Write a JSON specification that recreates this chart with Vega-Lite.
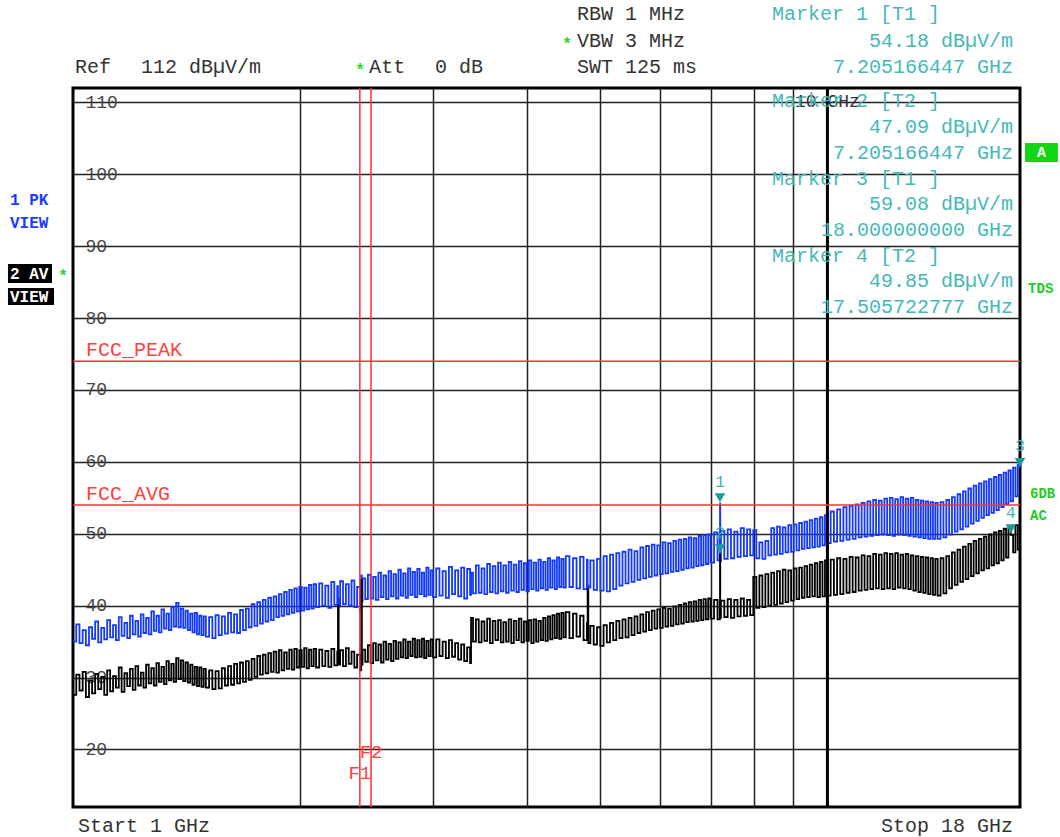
{
  "$schema": "https://vega.github.io/schema/vega-lite/v6.json",
  "width": 947,
  "height": 719,
  "autosize": {"type": "none"},
  "padding": {"left": 73, "top": 88, "right": 40, "bottom": 30},
  "background": "white",
  "config": {"view": {"stroke": "#000", "strokeWidth": 3}},
  "datasets": {
    "trace": [
      {"f":1.00,"pk":35.0,"av":27.6},{"f":1.01,"pk":37.4,"av":30.4},{"f":1.02,"pk":34.8,"av":28.2},{"f":1.03,"pk":36.6,"av":30.8},
      {"f":1.04,"pk":34.5,"av":27.3},{"f":1.05,"pk":37.0,"av":29.6},{"f":1.06,"pk":35.4,"av":27.8},{"f":1.07,"pk":37.8,"av":30.5},
      {"f":1.08,"pk":34.9,"av":28.4},{"f":1.09,"pk":36.9,"av":30.1},{"f":1.10,"pk":35.3,"av":27.6},{"f":1.11,"pk":38.0,"av":31.0},
      {"f":1.12,"pk":35.6,"av":28.1},{"f":1.13,"pk":37.3,"av":30.2},{"f":1.14,"pk":35.2,"av":28.6},{"f":1.15,"pk":38.4,"av":31.4},
      {"f":1.16,"pk":35.8,"av":28.0},{"f":1.17,"pk":37.6,"av":30.6},{"f":1.18,"pk":35.5,"av":28.8},{"f":1.19,"pk":38.6,"av":31.2},
      {"f":1.20,"pk":36.0,"av":28.3},{"f":1.21,"pk":37.9,"av":31.6},{"f":1.22,"pk":35.7,"av":28.9},{"f":1.23,"pk":38.8,"av":30.7},
      {"f":1.24,"pk":36.2,"av":28.6},{"f":1.25,"pk":38.3,"av":31.8},{"f":1.26,"pk":36.0,"av":29.2},{"f":1.27,"pk":39.2,"av":31.3},
      {"f":1.28,"pk":36.5,"av":28.9},{"f":1.29,"pk":38.6,"av":32.0},{"f":1.30,"pk":36.3,"av":29.4},{"f":1.31,"pk":39.5,"av":31.5},
      {"f":1.32,"pk":36.8,"av":29.1},{"f":1.33,"pk":38.9,"av":32.3},{"f":1.34,"pk":36.6,"av":29.6},{"f":1.35,"pk":39.8,"av":31.9},
      {"f":1.36,"pk":37.1,"av":29.4},{"f":1.37,"pk":40.4,"av":32.7},{"f":1.38,"pk":37.0,"av":29.8},{"f":1.39,"pk":39.6,"av":32.4},
      {"f":1.40,"pk":36.9,"av":29.5},{"f":1.41,"pk":39.3,"av":32.1},{"f":1.42,"pk":36.6,"av":29.3},{"f":1.43,"pk":38.9,"av":31.8},
      {"f":1.44,"pk":36.3,"av":29.0},{"f":1.45,"pk":39.0,"av":31.5},{"f":1.46,"pk":36.0,"av":28.8},{"f":1.47,"pk":38.6,"av":31.4},
      {"f":1.48,"pk":35.9,"av":28.7},{"f":1.49,"pk":38.5,"av":31.2},
      {"f":1.500,"pk":35.7,"av":28.6},{"f":1.515,"pk":38.4,"av":31.0},{"f":1.530,"pk":35.5,"av":28.4},{"f":1.545,"pk":38.7,"av":30.9},
      {"f":1.560,"pk":35.9,"av":28.5},{"f":1.575,"pk":38.5,"av":31.3},{"f":1.590,"pk":36.1,"av":28.9},{"f":1.605,"pk":39.0,"av":31.6},
      {"f":1.620,"pk":36.3,"av":29.0},{"f":1.635,"pk":38.8,"av":31.9},{"f":1.650,"pk":36.2,"av":29.2},{"f":1.665,"pk":39.4,"av":32.1},
      {"f":1.680,"pk":36.6,"av":29.4},{"f":1.695,"pk":39.6,"av":32.3},{"f":1.710,"pk":37.0,"av":29.7},{"f":1.725,"pk":40.2,"av":32.6},
      {"f":1.740,"pk":37.2,"av":30.1},{"f":1.755,"pk":40.5,"av":33.0},{"f":1.770,"pk":37.5,"av":30.4},{"f":1.785,"pk":40.8,"av":33.2},
      {"f":1.800,"pk":37.8,"av":30.6},{"f":1.815,"pk":41.1,"av":33.4},{"f":1.830,"pk":38.0,"av":30.8},{"f":1.845,"pk":41.3,"av":33.6},
      {"f":1.860,"pk":38.4,"av":30.7},{"f":1.875,"pk":41.6,"av":33.8},{"f":1.890,"pk":38.6,"av":31.0},{"f":1.905,"pk":41.9,"av":33.5},
      {"f":1.920,"pk":38.8,"av":31.2},{"f":1.935,"pk":42.2,"av":33.9},{"f":1.950,"pk":39.0,"av":31.1},{"f":1.965,"pk":42.4,"av":34.0},
      {"f":1.980,"pk":39.2,"av":31.4},{"f":1.995,"pk":42.6,"av":33.8},{"f":2.010,"pk":39.3,"av":31.5},{"f":2.025,"pk":42.5,"av":34.1},
      {"f":2.040,"pk":39.5,"av":31.3},{"f":2.055,"pk":42.9,"av":33.9},{"f":2.070,"pk":39.6,"av":31.6},{"f":2.085,"pk":43.0,"av":34.0},
      {"f":2.10,"pk":39.8,"av":31.4},{"f":2.12,"pk":43.1,"av":33.9},{"f":2.14,"pk":40.0,"av":31.6},{"f":2.16,"pk":42.8,"av":33.7},
      {"f":2.18,"pk":39.7,"av":31.5},{"f":2.20,"pk":43.3,"av":34.0},{"f":2.22,"pk":40.1,"av":31.7},{"f":2.24,"pk":42.7,"av":33.6},
      {"f":2.245,"pk":41.0,"av":40.0},{"f":2.25,"pk":39.9,"av":31.8},{"f":2.26,"pk":43.4,"av":33.8},{"f":2.28,"pk":40.2,"av":31.6},
      {"f":2.30,"pk":43.0,"av":34.1},{"f":2.32,"pk":40.0,"av":31.9},{"f":2.34,"pk":43.5,"av":33.6},{"f":2.36,"pk":39.8,"av":31.4},
      {"f":2.38,"pk":42.6,"av":33.2},{"f":2.40,"pk":39.3,"av":31.0},{"f":2.41,"pk":44.2,"av":43.6},{"f":2.415,"pk":40.6,"av":31.8},
      {"f":2.42,"pk":43.8,"av":33.9},{"f":2.44,"pk":40.9,"av":32.2},{"f":2.46,"pk":44.3,"av":34.5},{"f":2.48,"pk":41.0,"av":32.0},
      {"f":2.50,"pk":44.0,"av":34.8},{"f":2.52,"pk":40.8,"av":32.4},{"f":2.54,"pk":44.6,"av":34.6},{"f":2.56,"pk":41.2,"av":32.1},
      {"f":2.58,"pk":44.2,"av":35.0},{"f":2.60,"pk":40.9,"av":32.5},{"f":2.62,"pk":44.8,"av":34.7},{"f":2.64,"pk":41.3,"av":32.3},
      {"f":2.66,"pk":44.4,"av":35.1},{"f":2.68,"pk":41.0,"av":32.6},{"f":2.70,"pk":45.0,"av":34.9},{"f":2.72,"pk":41.4,"av":32.8},
      {"f":2.74,"pk":44.5,"av":35.3},{"f":2.76,"pk":41.1,"av":32.7},{"f":2.78,"pk":45.2,"av":35.0},{"f":2.80,"pk":41.5,"av":33.0},
      {"f":2.82,"pk":44.7,"av":35.4},{"f":2.84,"pk":41.2,"av":32.8},{"f":2.86,"pk":45.1,"av":35.2},{"f":2.88,"pk":41.6,"av":32.9},
      {"f":2.90,"pk":44.6,"av":35.4},{"f":2.92,"pk":41.3,"av":32.7},{"f":2.94,"pk":45.3,"av":35.1},{"f":2.96,"pk":41.5,"av":33.0},
      {"f":2.98,"pk":44.9,"av":35.3},
      {"f":3.00,"pk":41.2,"av":32.8},{"f":3.03,"pk":45.2,"av":35.3},{"f":3.06,"pk":41.4,"av":33.0},{"f":3.09,"pk":44.8,"av":35.0},
      {"f":3.12,"pk":41.1,"av":32.7},{"f":3.15,"pk":45.4,"av":35.2},{"f":3.18,"pk":41.6,"av":32.9},{"f":3.21,"pk":44.9,"av":34.8},
      {"f":3.24,"pk":41.3,"av":32.5},{"f":3.27,"pk":45.3,"av":34.6},{"f":3.30,"pk":41.0,"av":32.3},{"f":3.33,"pk":45.1,"av":34.2},
      {"f":3.36,"pk":41.5,"av":32.0},{"f":3.37,"pk":44.6,"av":38.3},{"f":3.39,"pk":41.7,"av":35.0},{"f":3.42,"pk":45.6,"av":38.1},
      {"f":3.45,"pk":41.8,"av":34.9},{"f":3.48,"pk":45.2,"av":37.8},{"f":3.51,"pk":41.6,"av":35.1},{"f":3.54,"pk":45.8,"av":38.2},
      {"f":3.57,"pk":41.9,"av":34.8},{"f":3.60,"pk":45.5,"av":37.9},{"f":3.63,"pk":41.7,"av":35.2},{"f":3.66,"pk":46.0,"av":38.0},
      {"f":3.69,"pk":42.0,"av":34.9},{"f":3.72,"pk":45.6,"av":37.7},{"f":3.75,"pk":41.8,"av":35.0},{"f":3.78,"pk":46.1,"av":38.1},
      {"f":3.81,"pk":42.1,"av":34.8},{"f":3.84,"pk":45.7,"av":37.9},{"f":3.87,"pk":41.9,"av":35.2},{"f":3.90,"pk":46.2,"av":38.2},
      {"f":3.93,"pk":42.2,"av":34.9},{"f":3.96,"pk":45.9,"av":37.8},{"f":3.99,"pk":42.0,"av":35.1},{"f":4.02,"pk":46.3,"av":38.0},
      {"f":4.05,"pk":42.3,"av":34.8},{"f":4.08,"pk":46.0,"av":38.1},{"f":4.11,"pk":42.1,"av":35.0},{"f":4.14,"pk":46.4,"av":37.9},
      {"f":4.17,"pk":42.4,"av":35.2},{"f":4.20,"pk":46.1,"av":38.3},{"f":4.23,"pk":42.2,"av":35.1},{"f":4.26,"pk":46.6,"av":38.5},
      {"f":4.29,"pk":42.5,"av":35.3},{"f":4.32,"pk":46.3,"av":38.7},{"f":4.35,"pk":42.3,"av":35.5},{"f":4.38,"pk":46.7,"av":38.9},
      {"f":4.41,"pk":42.6,"av":35.4},{"f":4.44,"pk":46.5,"av":39.0},{"f":4.47,"pk":42.5,"av":35.6},
      {"f":4.50,"pk":46.9,"av":39.1},{"f":4.55,"pk":42.6,"av":35.5},{"f":4.60,"pk":46.6,"av":38.9},{"f":4.65,"pk":42.4,"av":35.7},
      {"f":4.70,"pk":46.8,"av":38.6},{"f":4.75,"pk":42.3,"av":35.2},{"f":4.80,"pk":46.4,"av":37.6},{"f":4.81,"pk":42.8,"av":42.3},
      {"f":4.82,"pk":42.5,"av":34.8},{"f":4.85,"pk":46.3,"av":37.2},{"f":4.90,"pk":42.2,"av":34.6},{"f":4.95,"pk":46.5,"av":37.0},
      {"f":5.00,"pk":42.1,"av":34.4},{"f":5.05,"pk":46.9,"av":37.3},{"f":5.10,"pk":42.0,"av":34.9},{"f":5.15,"pk":47.1,"av":37.6},
      {"f":5.20,"pk":42.3,"av":35.2},{"f":5.25,"pk":47.3,"av":37.9},{"f":5.30,"pk":42.8,"av":35.5},{"f":5.35,"pk":47.5,"av":38.1},
      {"f":5.40,"pk":43.1,"av":35.6},{"f":5.45,"pk":47.8,"av":38.3},{"f":5.50,"pk":43.3,"av":35.9},{"f":5.55,"pk":47.6,"av":38.5},
      {"f":5.60,"pk":43.6,"av":36.2},{"f":5.65,"pk":48.1,"av":38.8},{"f":5.70,"pk":43.8,"av":36.4},{"f":5.75,"pk":48.3,"av":39.1},
      {"f":5.80,"pk":44.0,"av":36.6},{"f":5.85,"pk":48.5,"av":39.3},{"f":5.90,"pk":44.2,"av":36.8},{"f":5.95,"pk":48.4,"av":39.5},
      {"f":6.00,"pk":44.4,"av":36.9},{"f":6.05,"pk":48.8,"av":39.7},{"f":6.10,"pk":44.5,"av":37.1},{"f":6.15,"pk":48.7,"av":39.6},
      {"f":6.20,"pk":44.7,"av":37.2},{"f":6.25,"pk":49.0,"av":39.9},{"f":6.30,"pk":44.8,"av":37.4},{"f":6.35,"pk":49.2,"av":40.1},
      {"f":6.40,"pk":45.0,"av":37.5},{"f":6.45,"pk":49.3,"av":40.3},{"f":6.50,"pk":45.2,"av":37.7},{"f":6.55,"pk":49.5,"av":40.5},
      {"f":6.60,"pk":45.3,"av":37.8},{"f":6.65,"pk":49.4,"av":40.6},{"f":6.70,"pk":45.5,"av":37.9},{"f":6.75,"pk":49.7,"av":40.8},
      {"f":6.80,"pk":45.6,"av":38.0},{"f":6.85,"pk":49.8,"av":40.9},{"f":6.90,"pk":45.8,"av":38.1},{"f":6.95,"pk":49.9,"av":41.0},
      {"f":7.000,"pk":46.0,"av":38.2},{"f":7.075,"pk":50.2,"av":40.8},{"f":7.150,"pk":46.3,"av":38.1},{"f":7.200,"pk":50.0,"av":40.6},
      {"f":7.205,"pk":54.18,"av":47.09},{"f":7.210,"pk":46.2,"av":38.3},{"f":7.225,"pk":50.4,"av":40.7},{"f":7.300,"pk":46.5,"av":38.4},
      {"f":7.375,"pk":50.6,"av":40.9},{"f":7.450,"pk":46.6,"av":38.3},{"f":7.525,"pk":50.3,"av":40.8},{"f":7.600,"pk":46.8,"av":38.5},
      {"f":7.675,"pk":50.8,"av":41.0},{"f":7.750,"pk":46.9,"av":38.6},{"f":7.825,"pk":50.6,"av":40.8},{"f":7.900,"pk":47.0,"av":38.7},
      {"f":7.975,"pk":50.5,"av":44.0},{"f":8.050,"pk":46.6,"av":39.7},{"f":8.125,"pk":48.8,"av":44.2},{"f":8.200,"pk":46.5,"av":39.8},
      {"f":8.275,"pk":49.0,"av":44.4},{"f":8.350,"pk":47.0,"av":40.0},{"f":8.425,"pk":50.8,"av":44.6},{"f":8.500,"pk":47.1,"av":40.1},
      {"f":8.575,"pk":51.0,"av":44.8},{"f":8.650,"pk":47.2,"av":40.3},{"f":8.725,"pk":50.9,"av":45.0},{"f":8.800,"pk":47.4,"av":40.5},
      {"f":8.875,"pk":51.2,"av":44.9},{"f":8.950,"pk":47.5,"av":40.7},{"f":9.025,"pk":51.3,"av":45.2},{"f":9.100,"pk":47.7,"av":40.9},
      {"f":9.175,"pk":51.5,"av":45.3},{"f":9.250,"pk":47.9,"av":41.1},{"f":9.325,"pk":51.7,"av":45.5},{"f":9.400,"pk":48.0,"av":41.2},
      {"f":9.475,"pk":51.9,"av":45.7},{"f":9.550,"pk":48.1,"av":41.3},{"f":9.625,"pk":52.1,"av":45.9},{"f":9.700,"pk":48.2,"av":41.2},
      {"f":9.775,"pk":52.3,"av":46.1},{"f":9.850,"pk":48.4,"av":41.3},{"f":9.925,"pk":52.6,"av":46.3},
      {"f":10.0,"pk":48.7,"av":41.4},{"f":10.1,"pk":53.1,"av":46.4},{"f":10.2,"pk":48.9,"av":41.5},{"f":10.3,"pk":53.4,"av":46.6},
      {"f":10.4,"pk":49.0,"av":41.6},{"f":10.5,"pk":53.7,"av":46.5},{"f":10.6,"pk":49.2,"av":41.8},{"f":10.7,"pk":53.9,"av":46.8},
      {"f":10.8,"pk":49.3,"av":41.9},{"f":10.9,"pk":54.1,"av":46.7},{"f":11.0,"pk":49.5,"av":42.1},{"f":11.1,"pk":54.3,"av":47.0},
      {"f":11.2,"pk":49.6,"av":42.2},{"f":11.3,"pk":54.5,"av":46.9},{"f":11.4,"pk":49.7,"av":42.3},{"f":11.5,"pk":54.7,"av":47.2},
      {"f":11.6,"pk":49.8,"av":42.4},{"f":11.7,"pk":54.6,"av":47.1},{"f":11.8,"pk":49.9,"av":42.3},{"f":11.9,"pk":54.9,"av":47.3},
      {"f":12.0,"pk":49.8,"av":42.4},{"f":12.1,"pk":55.0,"av":47.2},{"f":12.2,"pk":49.7,"av":42.3},{"f":12.3,"pk":54.8,"av":47.3},
      {"f":12.4,"pk":49.9,"av":42.5},{"f":12.5,"pk":55.1,"av":47.1},{"f":12.6,"pk":49.8,"av":42.4},{"f":12.7,"pk":54.9,"av":47.2},
      {"f":12.8,"pk":49.7,"av":42.3},{"f":12.9,"pk":55.0,"av":47.0},{"f":13.0,"pk":49.6,"av":42.1},{"f":13.1,"pk":54.7,"av":46.9},
      {"f":13.2,"pk":49.5,"av":41.9},{"f":13.3,"pk":54.6,"av":46.8},{"f":13.4,"pk":49.4,"av":41.8},{"f":13.5,"pk":54.5,"av":46.7},
      {"f":13.6,"pk":49.3,"av":41.6},{"f":13.7,"pk":54.4,"av":46.6},{"f":13.8,"pk":49.3,"av":41.5},{"f":13.9,"pk":54.3,"av":46.5},
      {"f":14.000,"pk":49.3,"av":41.4},{"f":14.125,"pk":54.4,"av":46.6},{"f":14.250,"pk":49.5,"av":41.7},{"f":14.375,"pk":54.7,"av":46.9},
      {"f":14.500,"pk":49.9,"av":42.4},{"f":14.625,"pk":55.1,"av":47.4},{"f":14.750,"pk":50.3,"av":42.9},{"f":14.875,"pk":55.5,"av":47.8},
      {"f":15.000,"pk":50.6,"av":43.3},{"f":15.125,"pk":55.9,"av":48.2},{"f":15.250,"pk":51.0,"av":43.7},{"f":15.375,"pk":56.3,"av":48.6},
      {"f":15.500,"pk":51.4,"av":44.1},{"f":15.625,"pk":56.7,"av":49.0},{"f":15.750,"pk":51.8,"av":44.5},{"f":15.875,"pk":57.0,"av":49.3},
      {"f":16.000,"pk":52.2,"av":44.9},{"f":16.125,"pk":57.3,"av":49.6},{"f":16.250,"pk":52.6,"av":45.2},{"f":16.375,"pk":57.6,"av":49.9},
      {"f":16.500,"pk":52.9,"av":45.6},{"f":16.625,"pk":57.9,"av":50.2},{"f":16.750,"pk":53.3,"av":45.9},{"f":16.875,"pk":58.2,"av":50.4},
      {"f":17.000,"pk":53.7,"av":46.3},{"f":17.125,"pk":58.5,"av":50.7},{"f":17.250,"pk":54.1,"av":46.7},{"f":17.375,"pk":58.8,"av":51.0},
      {"f":17.500,"pk":54.5,"av":49.85},{"f":17.625,"pk":59.2,"av":47.4},{"f":17.750,"pk":55.2,"av":51.2},{"f":17.875,"pk":59.6,"av":47.8},
      {"f":18.000,"pk":59.08,"av":51.0}
    ]
  },
  "layer": [
    {
      "data": {"name": "trace"},
      "mark": {"type": "line", "interpolate": "step-after", "strokeWidth": 1.8, "color": "#1238ff", "clip": true},
      "encoding": {
        "x": {"field": "f", "type": "quantitative", "scale": {"type": "log", "domain": [1, 18], "nice": false},
              "axis": {"values": [2,3,4,5,6,7,8,9,10], "grid": true, "gridColor": "#222", "gridWidth": 1.5, "labels": false, "ticks": false, "domain": false, "title": null}},
        "y": {"field": "pk", "type": "quantitative", "scale": {"domain": [12, 112], "nice": false, "zero": false},
              "axis": {"values": [20,30,40,50,60,70,80,90,100,110], "grid": true, "gridColor": "#222", "gridWidth": 1.5, "domain": false, "ticks": false,
                       "labelAlign": "left", "labelPadding": -12, "labelFont": "Liberation Mono", "labelFontSize": 18, "labelColor": "#444", "labelBaseline": "middle", "labelOverlap": false, "title": null}}
      }
    },
    {
      "data": {"name": "trace"},
      "mark": {"type": "line", "interpolate": "step-after", "strokeWidth": 1.8, "color": "#000000", "clip": true},
      "encoding": {
        "x": {"field": "f", "type": "quantitative", "scale": {"type": "log", "domain": [1, 18], "nice": false}},
        "y": {"field": "av", "type": "quantitative", "scale": {"domain": [12, 112], "nice": false, "zero": false}}
      }
    },
    {
      "data": {"values": [{"f": 10}]},
      "mark": {"type": "rule", "color": "#000", "strokeWidth": 3},
      "encoding": {
        "x": {"field": "f", "type": "quantitative", "scale": {"type": "log", "domain": [1, 18], "nice": false}}
      }
    },
    {
      "data": {"values": [{"name": "FCC_PEAK", "db": 74}, {"name": "FCC_AVG", "db": 54}]},
      "layer": [
        {
          "mark": {"type": "rule", "color": "#ff3030", "strokeWidth": 1.5},
          "encoding": {"y": {"field": "db", "type": "quantitative", "scale": {"domain": [12, 112], "nice": false, "zero": false}}}
        },
        {
          "mark": {"type": "text", "align": "left", "baseline": "middle", "font": "Liberation Mono", "fontSize": 20, "color": "#ff4040", "dy": -11},
          "encoding": {
            "x": {"datum": 1.0405, "type": "quantitative", "scale": {"type": "log", "domain": [1, 18], "nice": false}},
            "y": {"field": "db", "type": "quantitative", "scale": {"domain": [12, 112], "nice": false, "zero": false}},
            "text": {"field": "name"}
          }
        }
      ]
    },
    {
      "data": {"values": [{"name": "F1", "f": 2.4, "ly": 16.73}, {"name": "F2", "f": 2.4835, "ly": 19.65}]},
      "layer": [
        {
          "mark": {"type": "rule", "color": "#ff3030", "strokeWidth": 1.5},
          "encoding": {"x": {"field": "f", "type": "quantitative", "scale": {"type": "log", "domain": [1, 18], "nice": false}}}
        },
        {
          "mark": {"type": "text", "align": "center", "baseline": "middle", "font": "Liberation Mono", "fontSize": 19, "color": "#ff4040"},
          "encoding": {
            "x": {"field": "f", "type": "quantitative", "scale": {"type": "log", "domain": [1, 18], "nice": false}},
            "y": {"field": "ly", "type": "quantitative", "scale": {"domain": [12, 112], "nice": false, "zero": false}},
            "text": {"field": "name"}
          }
        }
      ]
    },
    {
      "data": {"values": [{"m": "1", "f": 7.205, "v": 54.18}, {"m": "2", "f": 7.205, "v": 47.09}, {"m": "3", "f": 18, "v": 59.08}, {"m": "4", "f": 17.5057, "v": 49.85}]},
      "layer": [
        {
          "mark": {"type": "point", "shape": "triangle-down", "filled": true, "size": 110, "color": "#1a9a9a", "opacity": 1, "yOffset": -6},
          "encoding": {
            "x": {"field": "f", "type": "quantitative", "scale": {"type": "log", "domain": [1, 18], "nice": false}},
            "y": {"field": "v", "type": "quantitative", "scale": {"domain": [12, 112], "nice": false, "zero": false}}
          }
        },
        {
          "mark": {"type": "text", "align": "center", "baseline": "middle", "font": "Liberation Mono", "fontSize": 16, "color": "#3cb4b4", "yOffset": -22},
          "encoding": {
            "x": {"field": "f", "type": "quantitative", "scale": {"type": "log", "domain": [1, 18], "nice": false}},
            "y": {"field": "v", "type": "quantitative", "scale": {"domain": [12, 112], "nice": false, "zero": false}},
            "text": {"field": "m"}
          }
        }
      ]
    },
    {
      "data": {"values": [{"t": "10 GHz", "f": 10, "db": 110.05}]},
      "mark": {"type": "text", "align": "center", "baseline": "middle", "font": "Liberation Mono", "fontSize": 18, "color": "#333"},
      "encoding": {
        "x": {"field": "f", "type": "quantitative", "scale": {"type": "log", "domain": [1, 18], "nice": false}},
        "y": {"field": "db", "type": "quantitative", "scale": {"domain": [12, 112], "nice": false, "zero": false}},
        "text": {"field": "t"}
      }
    },
    {
      "data": {"values": [
        {"t": "Ref", "f": 1.0061, "db": 114.92},
        {"t": "112 dBµV/m", "f": 1.2307, "db": 114.92},
        {"t": "Att", "f": 2.469, "db": 114.92},
        {"t": "0 dB", "f": 3.019, "db": 114.92},
        {"t": "RBW 1 MHz", "f": 4.658, "db": 122.29},
        {"t": "VBW 3 MHz", "f": 4.658, "db": 118.54},
        {"t": "SWT 125 ms", "f": 4.658, "db": 114.92},
        {"t": "Start 1 GHz", "f": 1.0154, "db": 9.4}
      ]},
      "mark": {"type": "text", "align": "left", "baseline": "middle", "font": "Liberation Mono", "fontSize": 20, "color": "#333"},
      "encoding": {
        "x": {"field": "f", "type": "quantitative", "scale": {"type": "log", "domain": [1, 18], "nice": false}},
        "y": {"field": "db", "type": "quantitative", "scale": {"domain": [12, 112], "nice": false, "zero": false}},
        "text": {"field": "t"}
      }
    },
    {
      "data": {"values": [{"t": "Stop 18 GHz", "f": 17.62, "db": 9.4}]},
      "mark": {"type": "text", "align": "right", "baseline": "middle", "font": "Liberation Mono", "fontSize": 20, "color": "#333"},
      "encoding": {
        "x": {"field": "f", "type": "quantitative", "scale": {"type": "log", "domain": [1, 18], "nice": false}},
        "y": {"field": "db", "type": "quantitative", "scale": {"domain": [12, 112], "nice": false, "zero": false}},
        "text": {"field": "t"}
      }
    },
    {
      "data": {"values": [
        {"t": "Marker 1 [T1 ]", "f": 8.446, "db": 122.29},
        {"t": "Marker 2 [T2 ]", "f": 8.446, "db": 110.19},
        {"t": "Marker 3 [T1 ]", "f": 8.446, "db": 99.34},
        {"t": "Marker 4 [T2 ]", "f": 8.446, "db": 88.63}
      ]},
      "mark": {"type": "text", "align": "left", "baseline": "middle", "font": "Liberation Mono", "fontSize": 20, "color": "#46b8b8"},
      "encoding": {
        "x": {"field": "f", "type": "quantitative", "scale": {"type": "log", "domain": [1, 18], "nice": false}},
        "y": {"field": "db", "type": "quantitative", "scale": {"domain": [12, 112], "nice": false, "zero": false}},
        "text": {"field": "t"}
      }
    },
    {
      "data": {"values": [
        {"t": "54.18 dBµV/m", "f": 17.62, "db": 118.54},
        {"t": "7.205166447 GHz", "f": 17.62, "db": 114.92},
        {"t": "47.09 dBµV/m", "f": 17.62, "db": 106.58},
        {"t": "7.205166447 GHz", "f": 17.62, "db": 102.96},
        {"t": "59.08 dBµV/m", "f": 17.62, "db": 95.87},
        {"t": "18.000000000 GHz", "f": 17.62, "db": 92.25},
        {"t": "49.85 dBµV/m", "f": 17.62, "db": 85.16},
        {"t": "17.505722777 GHz", "f": 17.62, "db": 81.54}
      ]},
      "mark": {"type": "text", "align": "right", "baseline": "middle", "font": "Liberation Mono", "fontSize": 20, "color": "#46b8b8"},
      "encoding": {
        "x": {"field": "f", "type": "quantitative", "scale": {"type": "log", "domain": [1, 18], "nice": false}},
        "y": {"field": "db", "type": "quantitative", "scale": {"domain": [12, 112], "nice": false, "zero": false}},
        "text": {"field": "t"}
      }
    },
    {
      "data": {"values": [
        {"t": "*", "f": 2.401, "db": 114.92},
        {"t": "*", "f": 4.517, "db": 118.54},
        {"t": "*", "f": 0.9699, "db": 86.27}
      ]},
      "mark": {"type": "text", "align": "center", "baseline": "middle", "font": "Liberation Mono", "fontSize": 16, "fontWeight": "bold", "color": "#22dd22", "dy": 3},
      "encoding": {
        "x": {"field": "f", "type": "quantitative", "scale": {"type": "log", "domain": [1, 18], "nice": false}},
        "y": {"field": "db", "type": "quantitative", "scale": {"domain": [12, 112], "nice": false, "zero": false}},
        "text": {"field": "t"}
      }
    },
    {
      "data": {"values": [
        {"t": "1 PK", "f": 0.825, "db": 96.42},
        {"t": "VIEW", "f": 0.825, "db": 93.22}
      ]},
      "mark": {"type": "text", "align": "left", "baseline": "middle", "font": "Liberation Mono", "fontSize": 16, "fontWeight": "bold", "color": "#1a3cff"},
      "encoding": {
        "x": {"field": "f", "type": "quantitative", "scale": {"type": "log", "domain": [1, 18], "nice": false}},
        "y": {"field": "db", "type": "quantitative", "scale": {"domain": [12, 112], "nice": false, "zero": false}},
        "text": {"field": "t"}
      }
    },
    {
      "data": {"values": [
        {"box": "2 AV", "f1": 0.82, "f2": 0.9379, "d1": 87.52, "d2": 84.88, "k": "trace"},
        {"box": "VIEW", "f1": 0.82, "f2": 0.9437, "d1": 84.18, "d2": 81.82, "k": "trace"},
        {"box": "A", "f1": 18.275, "f2": 20.21, "d1": 104.35, "d2": 101.71, "k": "status"}
      ]},
      "mark": {"type": "rect"},
      "encoding": {
        "x": {"field": "f1", "type": "quantitative", "scale": {"type": "log", "domain": [1, 18], "nice": false}},
        "x2": {"field": "f2"},
        "y": {"field": "d1", "type": "quantitative", "scale": {"domain": [12, 112], "nice": false, "zero": false}},
        "y2": {"field": "d2"},
        "color": {"field": "k", "type": "nominal", "scale": {"domain": ["trace", "status"], "range": ["#000000", "#11d611"]}, "legend": null}
      }
    },
    {
      "data": {"values": [
        {"t": "2 AV", "f": 0.825, "db": 86.2},
        {"t": "VIEW", "f": 0.825, "db": 83.0}
      ]},
      "mark": {"type": "text", "align": "left", "baseline": "middle", "font": "Liberation Mono", "fontSize": 16, "fontWeight": "bold", "color": "#ffffff"},
      "encoding": {
        "x": {"field": "f", "type": "quantitative", "scale": {"type": "log", "domain": [1, 18], "nice": false}},
        "y": {"field": "db", "type": "quantitative", "scale": {"domain": [12, 112], "nice": false, "zero": false}},
        "text": {"field": "t"}
      }
    },
    {
      "data": {"values": [{"t": "A", "f": 19.22, "db": 103.03}]},
      "mark": {"type": "text", "align": "center", "baseline": "middle", "font": "Liberation Mono", "fontSize": 15, "fontWeight": "bold", "color": "#ffffff"},
      "encoding": {
        "x": {"field": "f", "type": "quantitative", "scale": {"type": "log", "domain": [1, 18], "nice": false}},
        "y": {"field": "db", "type": "quantitative", "scale": {"domain": [12, 112], "nice": false, "zero": false}},
        "text": {"field": "t"}
      }
    },
    {
      "data": {"values": [
        {"t": "TDS", "f": 18.45, "db": 84.04},
        {"t": "6DB", "f": 18.56, "db": 55.53},
        {"t": "AC", "f": 18.56, "db": 52.47}
      ]},
      "mark": {"type": "text", "align": "left", "baseline": "middle", "font": "Liberation Mono", "fontSize": 14, "fontWeight": "bold", "color": "#22cc22"},
      "encoding": {
        "x": {"field": "f", "type": "quantitative", "scale": {"type": "log", "domain": [1, 18], "nice": false}},
        "y": {"field": "db", "type": "quantitative", "scale": {"domain": [12, 112], "nice": false, "zero": false}},
        "text": {"field": "t"}
      }
    }
  ]
}
